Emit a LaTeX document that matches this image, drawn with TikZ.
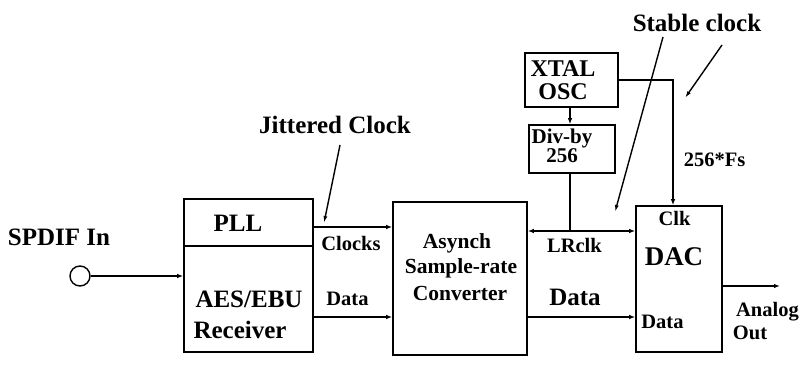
\documentclass[tikz,border=0pt]{standalone}
\usepackage{fontspec}
\setmainfont{Liberation Serif}
\usetikzlibrary{arrows.meta}
\begin{document}
\begin{tikzpicture}[x=1pt,y=-1pt,
 box/.style={draw,line width=1.6pt,inner sep=0pt},
 big/.style={font=\fontsize{25}{27}\selectfont\bfseries, inner sep=0pt},
 med/.style={font=\fontsize{21.5}{23}\selectfont\bfseries, inner sep=0pt},
 sml/.style={font=\fontsize{20.5}{22}\selectfont\bfseries, inner sep=0pt},
 wire/.style={line width=1.6pt},
 arr/.style={wire,-{Latex[length=6pt,width=4.5pt]}},
 note/.style={line width=1.4pt,-{Latex[length=7pt,width=4pt]}}]
\useasboundingbox (0,0) rectangle (801,374);
% boxes
\node[box,minimum width=129pt,minimum height=153pt] (rcv) at (248.5,275.5) {};
\node[box,minimum width=134pt,minimum height=153pt] (asrc) at (460,278.5) {};
\node[box,minimum width=86pt,minimum height=146pt] (dac) at (679,279) {};
\node[box,minimum width=93pt,minimum height=54pt] (xtal) at (571.5,80) {};
\node[box,minimum width=86pt,minimum height=48pt] (div) at (572,149) {};
\node[draw,circle,line width=1.4pt,minimum size=20pt,inner sep=0pt] (in) at (80,276) {};
\draw[wire] (rcv.west |- 0,246) -- (rcv.east |- 0,246);
% texts
\node[big] (spdif) at (59,237) {SPDIF In};
\node[big] (pll) at (238,223) {PLL};
\node[big] (aes) at (249,299) {AES/EBU};
\node[big] (recv) at (240,330) {Receiver};
\node[sml] (clocks) at (351,243) {Clocks};
\node[sml] (data1) at (347.5,299) {Data};
\node[med] (asy) at (457,243) {Asynch};
\node[med] (smp) at (461,268) {Sample-rate};
\node[med] (conv) at (460,293) {Converter};
\node[sml] (lrclk) at (574.5,245) {LRclk};
\node[big] (data2) at (575,297) {Data};
\node[sml] (clk) at (674.5,218) {Clk};
\node[font=\fontsize{27}{29}\selectfont\bfseries,inner sep=0pt] (dactxt) at (674,257) {DAC};
\node[sml] (data3) at (662.5,322) {Data};
\node[sml] (analog) at (767.5,312) {Analog};
\node[sml] (out) at (750,333) {Out};
\node[inner sep=0pt,align=center,font=\fontsize{24}{22.5}\selectfont\bfseries] (xt) at (563,80) {XTAL\\OSC};
\node[inner sep=0pt,align=center,font=\fontsize{21}{19}\selectfont\bfseries] (divby) at (562,146) {Div-by\\256};
\node[sml] (fs) at (714.5,160) {256*Fs};
\node[big] (jit) at (335,125) {Jittered Clock};
\node[big] (stable) at (697,23) {Stable clock};
% connectors
\draw[arr] (in.east) -- (in.east -| rcv.west);
\draw[arr] (rcv.east |- 0,227) -- (asrc.west |- 0,227);
\draw[arr] (rcv.east |- 0,317) -- (asrc.west |- 0,317);
\draw[arr] (asrc.east |- 0,317) -- (dac.west |- 0,317);
\coordinate (j) at (570,231);
\draw[arr] (j) -- (j -| asrc.east);
\draw[arr] (j) -- (j -| dac.west);
\draw[wire] (div.south -| j) -- (j);
\draw[arr] (xtal.south -| j) -- (div.north -| j);
\coordinate (k) at (673,80);
\draw[arr] (xtal.east |- k) -- (k) -- (k |- dac.north);
\draw[arr] (dac.east |- 0,286) coordinate (ao) -- (780,286) coordinate (aoe);
% annotation arrows
\coordinate (ja) at (340,145); \coordinate (jb) at (324,223);
\draw[note] (ja) -- (jb);
\coordinate (sa) at (663,37); \coordinate (sb) at (615,212);
\draw[note] (sa) -- (sb);
\coordinate (ta) at (722,45); \coordinate (tb) at (685,98);
\draw[note] (ta) -- (tb);
\end{tikzpicture}
\end{document}
